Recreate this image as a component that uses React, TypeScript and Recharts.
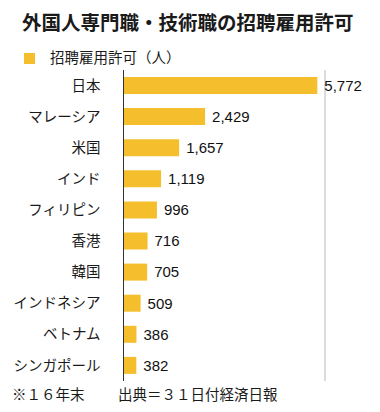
import { BarChart, Bar, XAxis, YAxis, CartesianGrid, LabelList } from "recharts";

const countries = [
  "日本",
  "マレーシア",
  "米国",
  "インド",
  "フィリピン",
  "香港",
  "韓国",
  "インドネシア",
  "ベトナム",
  "シンガポール",
];
const permits = [5772, 2429, 1657, 1119, 996, 716, 705, 509, 386, 382];
const xTicks = [0, 1000, 2000, 3000, 4000, 5000, 6000];

const data = countries.map((name, i) => ({ name, value: permits[i] }));

const font = '"Liberation Sans", Arial, "Noto Sans CJK JP", sans-serif';
const barColor = "#F4BE2D";

export default function App() {
  return (
    <div
      style={{
        position: "absolute",
        left: 0,
        top: 0,
        width: 380,
        height: 412,
        background: "#fff",
        fontFamily: font,
        color: "#1a1a1a",
      }}
    >
      <div
        style={{
          position: "absolute",
          left: 22,
          top: 10,
          fontSize: 19.5,
          fontWeight: "bold",
          lineHeight: "26px",
          whiteSpace: "nowrap",
        }}
      >
        外国人専門職・技術職の招聘雇用許可
      </div>
      <div
        style={{
          position: "absolute",
          left: 24,
          top: 53,
          width: 11,
          height: 11,
          background: barColor,
        }}
      />
      <div
        style={{
          position: "absolute",
          left: 50,
          top: 48,
          fontSize: 14.5,
          lineHeight: "20px",
          whiteSpace: "nowrap",
        }}
      >
        招聘雇用許可（人）
      </div>

      <BarChart
        width={380}
        height={412}
        data={data}
        layout="vertical"
        margin={{ top: 70, right: 55, bottom: 31, left: 0 }}
        style={{ position: "absolute", left: 0, top: 0 }}
      >
        <CartesianGrid horizontal={false} stroke="#b8b8b8" />
        <XAxis
          type="number"
          domain={[0, 6000]}
          ticks={xTicks}
          height={0}
          tick={false}
          axisLine={false}
          tickLine={false}
        />
        <YAxis
          type="category"
          dataKey="name"
          width={123.5}
          tickSize={0}
          tickMargin={23}
          axisLine={{ stroke: "#333" }}
          tickLine={false}
          tick={{ fill: "#1a1a1a", fontSize: 14.5, fontFamily: font }}
          interval={0}
        />
        <Bar dataKey="value" fill={barColor} barSize={17} isAnimationActive={false}>
          <LabelList
            dataKey="value"
            position="right"
            offset={7}
            formatter={(v: number) => v.toLocaleString("en-US")}
            style={{ fill: "#111", fontSize: 15, fontFamily: font }}
          />
        </Bar>
      </BarChart>

      <div
        style={{
          position: "absolute",
          left: 12,
          top: 385,
          fontSize: 14.5,
          lineHeight: "20px",
          whiteSpace: "nowrap",
        }}
      >
        ※１６年末
      </div>
      <div
        style={{
          position: "absolute",
          left: 118,
          top: 385,
          fontSize: 14.5,
          lineHeight: "20px",
          whiteSpace: "nowrap",
        }}
      >
        出典＝３１日付経済日報
      </div>
    </div>
  );
}
